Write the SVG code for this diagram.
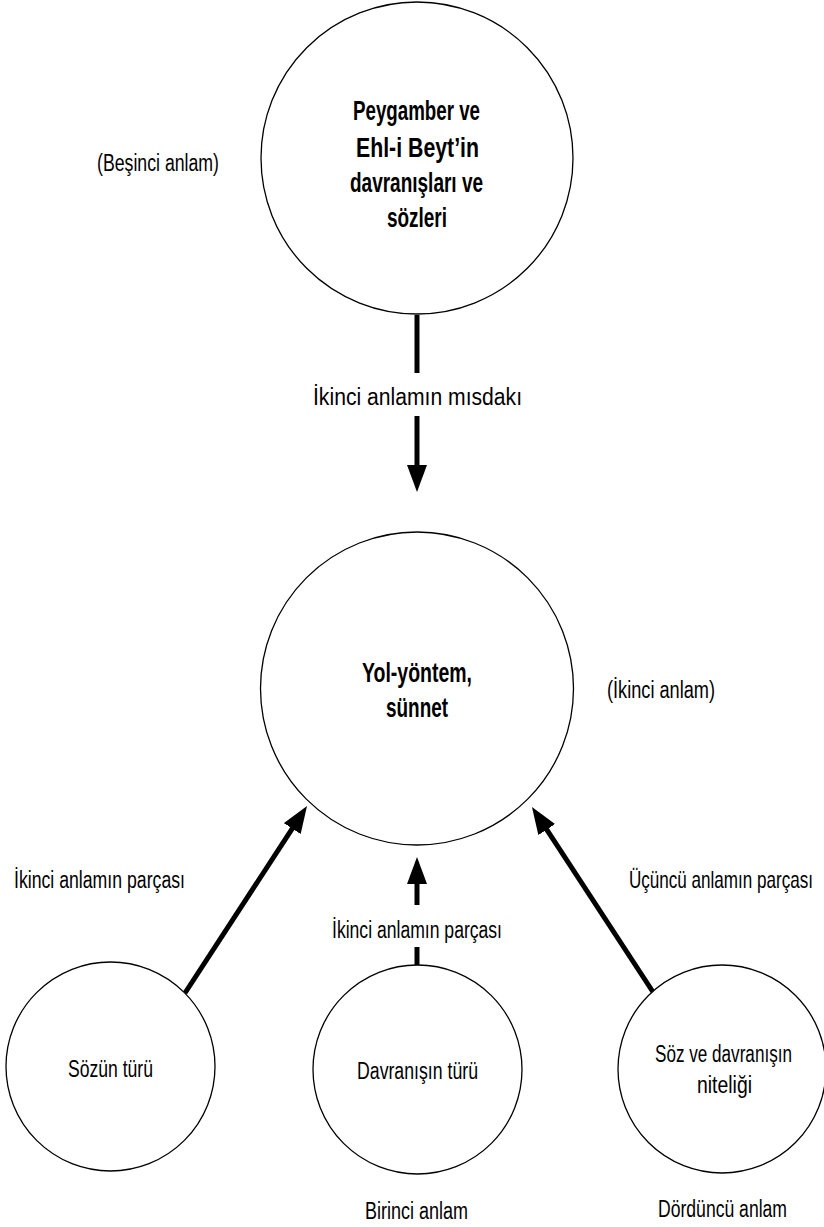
<svg xmlns="http://www.w3.org/2000/svg" width="824" height="1227" viewBox="0 0 824 1227">
<style>
.node{fill:#fff;stroke:#000;stroke-width:1.3}
.t{font-family:"Liberation Sans",Arial,sans-serif;font-size:19px;fill:#000;text-anchor:middle}
.b{font-family:"Liberation Sans",Arial,sans-serif;font-size:21px;font-weight:bold;fill:#000;text-anchor:middle}
.c{stroke:#000;stroke-width:5;fill:none}
</style>
<defs>
<marker id="ah" viewBox="0 0 27 20" refX="5" refY="10" markerWidth="27" markerHeight="20" markerUnits="userSpaceOnUse" orient="auto">
<path d="M0,0 L27,10 L0,20 Z" fill="#000"/>
</marker>
</defs>
<rect width="824" height="1227" fill="#fff"/>
<g id="connectors">
<line class="c" x1="417" y1="315" x2="417" y2="373"/>
<line class="c" x1="417" y1="416" x2="417" y2="470" marker-end="url(#ah)"/>
<line class="c" x1="185" y1="993" x2="295" y2="824.4" marker-end="url(#ah)"/>
<line class="c" x1="653" y1="992" x2="544" y2="825.4" marker-end="url(#ah)"/>
<line class="c" x1="417" y1="965" x2="417" y2="947"/>
<line class="c" x1="417" y1="905" x2="417" y2="879" marker-end="url(#ah)"/>
</g>
<g id="labels">
<text class="t" transform="translate(417.5,405) scale(1,1.3)" textLength="209" lengthAdjust="spacingAndGlyphs">İkinci anlamın mısdakı</text>
<text class="t" transform="translate(99.5,888) scale(1,1.3)" textLength="171" lengthAdjust="spacingAndGlyphs">İkinci anlamın parçası</text>
<text class="t" transform="translate(417,938) scale(1,1.3)" textLength="170" lengthAdjust="spacingAndGlyphs">İkinci anlamın parçası</text>
<text class="t" transform="translate(721,888) scale(1,1.3)" textLength="184" lengthAdjust="spacingAndGlyphs" style="font-size:18px">Üçüncü anlamın parçası</text>
<text class="t" transform="translate(158,171) scale(1,1.3)" textLength="122" lengthAdjust="spacingAndGlyphs">(Beşinci anlam)</text>
<text class="t" transform="translate(661,698) scale(1,1.3)" textLength="108" lengthAdjust="spacingAndGlyphs">(İkinci anlam)</text>
<text class="t" transform="translate(416.5,1219) scale(1,1.3)" textLength="103" lengthAdjust="spacingAndGlyphs">Birinci anlam</text>
<text class="t" transform="translate(722.5,1217) scale(1,1.3)" textLength="129" lengthAdjust="spacingAndGlyphs">Dördüncü anlam</text>
</g>
<g id="node-peygamber">
<circle class="node" cx="417" cy="158" r="156"/>
<text class="b" transform="translate(416.5,120) scale(1,1.3)" textLength="127" lengthAdjust="spacingAndGlyphs">Peygamber ve</text>
<text class="b" transform="translate(417.5,157) scale(1,1.3)" textLength="123" lengthAdjust="spacingAndGlyphs">Ehl-i Beyt’in</text>
<text class="b" transform="translate(416.5,192) scale(1,1.3)" textLength="133" lengthAdjust="spacingAndGlyphs">davranışları ve</text>
<text class="b" transform="translate(417,227) scale(1,1.3)" textLength="60" lengthAdjust="spacingAndGlyphs">sözleri</text>
</g>
<g id="node-yol">
<circle class="node" cx="417" cy="688.5" r="156.5"/>
<text class="b" transform="translate(417,682) scale(1,1.3)" textLength="110" lengthAdjust="spacingAndGlyphs">Yol-yöntem,</text>
<text class="b" transform="translate(417,717) scale(1,1.3)" textLength="62" lengthAdjust="spacingAndGlyphs">sünnet</text>
</g>
<g id="node-sozun">
<circle class="node" cx="110.5" cy="1066.5" r="104.5"/>
<text class="t" transform="translate(110.5,1077) scale(1,1.3)" textLength="85" lengthAdjust="spacingAndGlyphs">Sözün türü</text>
</g>
<g id="node-davranisin">
<circle class="node" cx="417.5" cy="1069.5" r="104.5"/>
<text class="t" transform="translate(417.5,1079) scale(1,1.3)" textLength="121" lengthAdjust="spacingAndGlyphs">Davranışın türü</text>
</g>
<g id="node-soz">
<circle class="node" cx="722" cy="1069" r="104"/>
<text class="t" transform="translate(723.5,1062) scale(1,1.3)" textLength="137" lengthAdjust="spacingAndGlyphs">Söz ve davranışın</text>
<text class="t" transform="translate(724.5,1093) scale(1,1.3)" textLength="55" lengthAdjust="spacingAndGlyphs">niteliği</text>
</g>
</svg>
